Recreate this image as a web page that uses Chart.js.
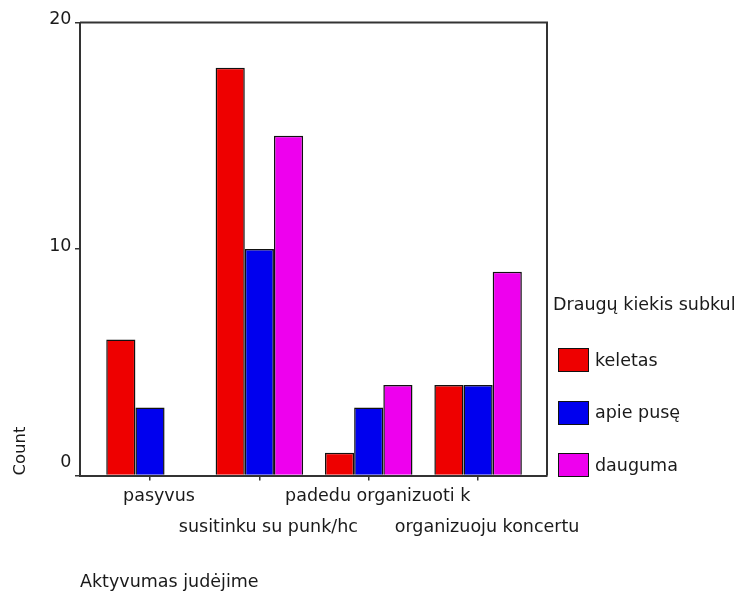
<!DOCTYPE html>
<html>
<head>
<meta charset="utf-8">
<script src="https://cdn.jsdelivr.net/npm/chart.js@4/dist/chart.umd.min.js"></script>
<style>
  html, body { margin: 0; padding: 0; background: #fff; }
  #wrap { position: relative; width: 742px; height: 596px; }
  #legend { position: absolute; left: 553px; top: 294px; font-family: "DejaVu Sans", sans-serif; font-size: 17.5px; line-height: 21px; color: #1a1a1a; white-space: nowrap; }
  #legend .ttl { margin-bottom: 33px; }
  #legend .item { display: flex; align-items: center; height: 24px; margin-bottom: 28.5px; margin-left: 5px; }
  #legend .box { width: 31px; height: 24px; box-sizing: border-box; border: 1.5px solid #111; margin-right: 6px; }
</style>
</head>
<body>
<div id="wrap">
  <canvas id="c" width="742" height="596"></canvas>
  <div id="legend"></div>
</div>
<script>
// ---- data ----
const categories = ['pasyvus', 'susitinku su punk/hc', 'padedu organizuoti k', 'organizuoju koncertu'];
const seriesNames = ['keletas', 'apie pusę', 'dauguma'];
const keletas = [6, 18, 1, 4];
const apiePuse = [3, 10, 3, 4];
const dauguma = [null, 15, 4, 9];
const yTicks = [0, 10, 20];
const legendTitle = 'Draugų kiekis subkul';
const xTitle = 'Aktyvumas judėjime';
const yTitle = 'Count';

const colors = ['#ee0000', '#0000ee', '#ee00ee'];
const seriesValues = [keletas, apiePuse, dauguma];
const FONT = '"DejaVu Sans", sans-serif';
const TXT = '#1a1a1a';
const AX = '#333333';

const frame = {
  id: 'frame',
  afterDatasetsDraw(chart) {
    const a = chart.chartArea, ctx = chart.ctx;
    ctx.save();
    ctx.strokeStyle = AX;
    ctx.lineWidth = 2;
    ctx.beginPath();
    ctx.moveTo(a.left, a.top);
    ctx.lineTo(a.right, a.top);
    ctx.lineTo(a.right, a.bottom);
    ctx.stroke();
    ctx.restore();
  }
};

const chart = new Chart(document.getElementById('c'), {
  type: 'bar',
  data: {
    datasets: seriesNames.map((n, s) => ({
      label: n,
      data: categories.map((c, i) => ({ x: i, y: seriesValues[s][i] })),
      backgroundColor: colors[s],
      borderColor: '#111',
      borderWidth: 1.5,
      categoryPercentage: 0.8,
      barPercentage: 1.0
    }))
  },
  plugins: [frame],
  options: {
    responsive: false,
    animation: false,
    devicePixelRatio: 1,
    layout: { padding: { left: 0, top: 22.5, right: 195, bottom: 0 } },
    plugins: { legend: { display: false }, tooltip: { enabled: false } },
    scales: {
      x: {
        type: 'linear',
        min: -0.64,
        max: 3.63,
        offset: false,
        afterBuildTicks: (s) => { s.ticks = categories.map((c, i) => ({ value: i })); },
        afterFit: (s) => { s.height = 120.5; },
        grid: { drawOnChartArea: false, offset: false, tickLength: 5, color: AX, lineWidth: 1.5 },
        border: { display: true, color: AX, width: 2 },
        ticks: {
          autoSkip: false, maxRotation: 0, minRotation: 0, padding: 0, labelOffset: 9,
          color: TXT,
          font: { family: FONT, size: 17.5, lineHeight: 31 / 17.5 },
          callback: (v) => {
            const i = Math.round(v);
            const lab = categories[i];
            return i % 2 === 0 ? [lab, ''] : ['', lab];
          }
        },
        title: {
          display: true, text: xTitle, align: 'start', color: TXT,
          font: { family: FONT, size: 17.5, lineHeight: 1.2 },
          padding: { top: 0, bottom: 3.5 }
        }
      },
      y: {
        type: 'linear',
        min: 0, max: 20,
        afterBuildTicks: (s) => { s.ticks = yTicks.map(v => ({ value: v })); },
        afterFit: (s) => { s.width = 80; },
        grid: { drawOnChartArea: false, tickLength: 5, color: AX, lineWidth: 1.5 },
        border: { display: true, color: AX, width: 2 },
        ticks: {
          padding: 3.5, labelOffset: -3, color: TXT,
          font: { family: FONT, size: 17.5, lineHeight: 20 / 17.5 },
          callback: (v) => v === 0 ? ['0', ''] : String(v)
        },
        title: {
          display: true, text: yTitle, align: 'start', color: TXT,
          font: { family: FONT, size: 16.5, lineHeight: 1.2 },
          padding: { top: 11, bottom: 0 }
        }
      }
    }
  }
});

// HTML legend built from the chart's datasets
const lg = document.getElementById('legend');
const t = document.createElement('div');
t.className = 'ttl';
t.textContent = legendTitle;
lg.appendChild(t);
chart.data.datasets.forEach(ds => {
  const it = document.createElement('div');
  it.className = 'item';
  const b = document.createElement('div');
  b.className = 'box';
  b.style.background = ds.backgroundColor;
  const s = document.createElement('span');
  s.textContent = ds.label;
  it.appendChild(b);
  it.appendChild(s);
  lg.appendChild(it);
});
</script>
</body>
</html>
